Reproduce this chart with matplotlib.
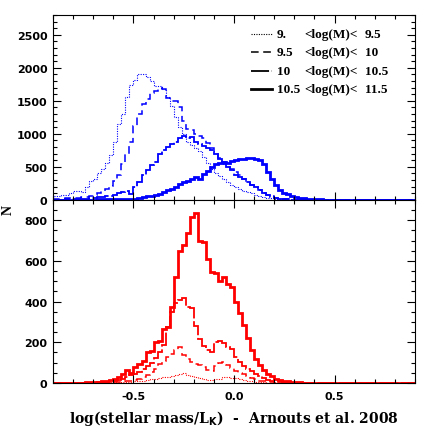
import matplotlib
matplotlib.use("Agg")
import matplotlib.pyplot as plt
import numpy as np
from matplotlib.ticker import MultipleLocator

plt.rcParams['axes.unicode_minus'] = False

# bins of log(M*/L_K), width 0.02 from -0.9 to 0.9
edges = np.arange(-0.9, 0.9001, 0.02)

# top panel (blue), counts per bin
blue_1 = [60, 65, 70, 80, 100, 130, 140, 120, 200, 280,
          320, 400, 470, 560, 680, 880, 1150, 1300, 1550, 1740,
          1820, 1900, 1900, 1860, 1800, 1720, 1730, 1680, 1550, 1420,
          1250, 1100, 1000, 880, 830, 780, 740, 650, 560, 470,
          400, 360, 310, 270, 230, 200, 160, 140, 120, 100,
          80, 65, 50, 35, 25, 15, 10, 6, 4, 3,
          2, 1, 1, 1, 0, 0, 0, 0, 0, 0] + [0] * 20
blue_2 = [15, 18, 20, 22, 25, 30, 35, 40, 50, 60,
          80, 110, 140, 170, 210, 280, 370, 550, 700, 880,
          1120, 1300, 1450, 1530, 1620, 1650, 1690, 1680, 1540, 1500,
          1490, 1400, 1200, 1080, 1060, 1000, 960, 930, 860, 780,
          730, 640, 580, 500, 470, 420, 370, 320, 270, 230,
          190, 150, 110, 80, 55, 35, 20, 12, 8, 5,
          3, 2, 1, 1, 0, 0, 0, 0, 0, 0] + [0] * 20
blue_3 = [5, 5, 5, 8, 10, 10, 12, 15, 20, 30,
          35, 40, 50, 60, 65, 80, 100, 115, 140, 90,
          200, 270, 380, 450, 530, 580, 700, 750, 800, 850,
          880, 930, 960, 930, 950, 880, 840, 820, 780, 760,
          700, 620, 540, 500, 450, 380, 340, 310, 270, 230,
          190, 150, 110, 80, 50, 30, 20, 12, 8, 5,
          3, 2, 1, 0, 0, 0, 0, 0, 0, 0] + [0] * 20
blue_4 = [2, 2, 2, 2, 3, 3, 3, 4, 4, 5,
          5, 6, 6, 7, 8, 9, 10, 12, 14, 16,
          20, 30, 40, 55, 65, 80, 95, 120, 150, 170,
          200, 235, 265, 290, 320, 340, 320, 390, 440, 500,
          540, 565, 575, 560, 590, 600, 615, 625, 630, 640,
          625, 600, 540, 420, 320, 220, 150, 110, 85, 60,
          45, 35, 25, 18, 12, 8, 6, 4, 3, 2,
          1, 1, 0, 0, 0, 0, 0, 0, 0, 0] + [0] * 10

# bottom panel (red), counts per bin
red_1 = [0, 0, 0, 0, 0, 0, 0, 0, 0, 0,
         1, 1, 2, 2, 3, 3, 4, 5, 5, 6,
         8, 10, 12, 14, 18, 20, 25, 28, 32, 35,
         38, 42, 50, 40, 35, 30, 25, 20, 16, 15,
         18, 22, 28, 30, 27, 24, 18, 13, 10, 8,
         6, 4, 3, 2, 1, 0, 0, 0, 0, 0] + [0] * 30
red_2 = [0, 0, 0, 0, 0, 0, 0, 0, 1, 1,
         1, 2, 2, 3, 3, 4, 5, 7, 9, 12,
         15, 21, 30, 40, 55, 70, 95, 110, 130, 145,
         160, 175, 140, 120, 105, 95, 90, 80, 65, 60,
         85, 100, 105, 90, 75, 60, 50, 42, 35, 25,
         18, 12, 8, 5, 3, 2, 1, 0, 0, 0] + [0] * 30
red_3 = [0, 0, 0, 0, 0, 0, 0, 0, 0, 1,
         2, 3, 4, 6, 8, 10, 15, 20, 30, 38,
         45, 55, 70, 85, 100, 125, 150, 185, 275, 350,
         395, 410, 420, 375, 370, 280, 215, 180, 160, 150,
         200, 205, 195, 175, 165, 130, 105, 85, 70, 60,
         45, 35, 25, 15, 9, 5, 3, 2, 1, 0] + [0] * 30
red_4 = [0, 0, 0, 0, 1, 1, 2, 2, 3, 4,
         5, 7, 10, 12, 15, 20, 30, 45, 62, 50,
         80, 95, 110, 150, 155, 200, 205, 265, 275, 375,
         520, 650, 680, 735, 815, 835, 700, 695, 610, 545,
         540, 500, 520, 485, 470, 400, 345, 285, 220, 160,
         120, 90, 65, 45, 33, 22, 15, 12, 8, 6,
         4, 3, 2, 1, 1, 0, 0, 0, 0, 0] + [0] * 20

lows = ['9.', '9.5', '10', '10.5']
highs = ['9.5', '10', '10.5', '11.5']

styles = [dict(ls=(0, (1, 1.2)), lw=0.8),
          dict(ls=(0, (5, 3)), lw=1.1),
          dict(ls=(0, (10, 1.5)), lw=1.3),
          dict(ls='-', lw=2.0)]

serif = 'Liberation Serif'

fig = plt.figure(figsize=(4.31, 4.31), dpi=100)
ax1 = fig.add_axes([0.123, 0.534, 0.840, 0.429])
ax2 = fig.add_axes([0.123, 0.109, 0.840, 0.425])

for vals, st in zip([blue_1, blue_2, blue_3, blue_4], styles):
    ax1.stairs(vals, edges, color='#0000ff', **st)
for vals, st in zip([red_1, red_2, red_3, red_4], styles):
    ax2.stairs(vals, edges, color='#ff0000', **st)

ax1.set_ylim(0, 2800)
ax2.set_ylim(0, 900)
for ax in (ax1, ax2):
    ax.set_xlim(-0.9, 0.9)
    ax.xaxis.set_major_locator(MultipleLocator(0.5))
    ax.xaxis.set_minor_locator(MultipleLocator(0.1))
    ax.tick_params(which='both', direction='in', top=True, right=True,
                   width=0.8, labelsize=8)
    ax.tick_params(which='major', length=6, pad=4)
    ax.tick_params(which='minor', length=3)
    for sp in ax.spines.values():
        sp.set_linewidth(0.8)

ax1.yaxis.set_major_locator(MultipleLocator(500))
ax1.yaxis.set_minor_locator(MultipleLocator(100))
ax1.tick_params(labelbottom=False)
ax2.yaxis.set_major_locator(MultipleLocator(200))
ax2.yaxis.set_minor_locator(MultipleLocator(50))
ax2.tick_params(axis='x', pad=6)
for lab in ax1.get_yticklabels() + ax2.get_xticklabels() + ax2.get_yticklabels():
    lab.set_fontweight('bold')

# legend, drawn by hand so the columns line up
row_y = [0.897, 0.80, 0.697, 0.60]
for y, lo, hi, st in zip(row_y, lows, highs, styles):
    ax1.plot([0.548, 0.605], [y, y], transform=ax1.transAxes, color='black', **st)
    ax1.text(0.618, y, lo, transform=ax1.transAxes, va='center',
             family=serif, fontweight='bold', fontsize=9.5)
    ax1.text(0.695, y, '<log(M)<', transform=ax1.transAxes, va='center',
             family=serif, fontweight='bold', fontsize=9.5)
    ax1.text(0.862, y, hi, transform=ax1.transAxes, va='center',
             family=serif, fontweight='bold', fontsize=9.5)

ax2.set_xlabel(r'log(stellar mass/L$_\mathbf{K}$)  -  Arnouts et al. 2008',
               family='DejaVu Serif', fontweight='bold', fontsize=10, labelpad=5)
fig.text(0.02, 1 - 210 / 431, 'N', rotation=90, ha='center', va='center',
         family=serif, fontweight='bold', fontsize=10)

fig.savefig('out.png', dpi=100)
